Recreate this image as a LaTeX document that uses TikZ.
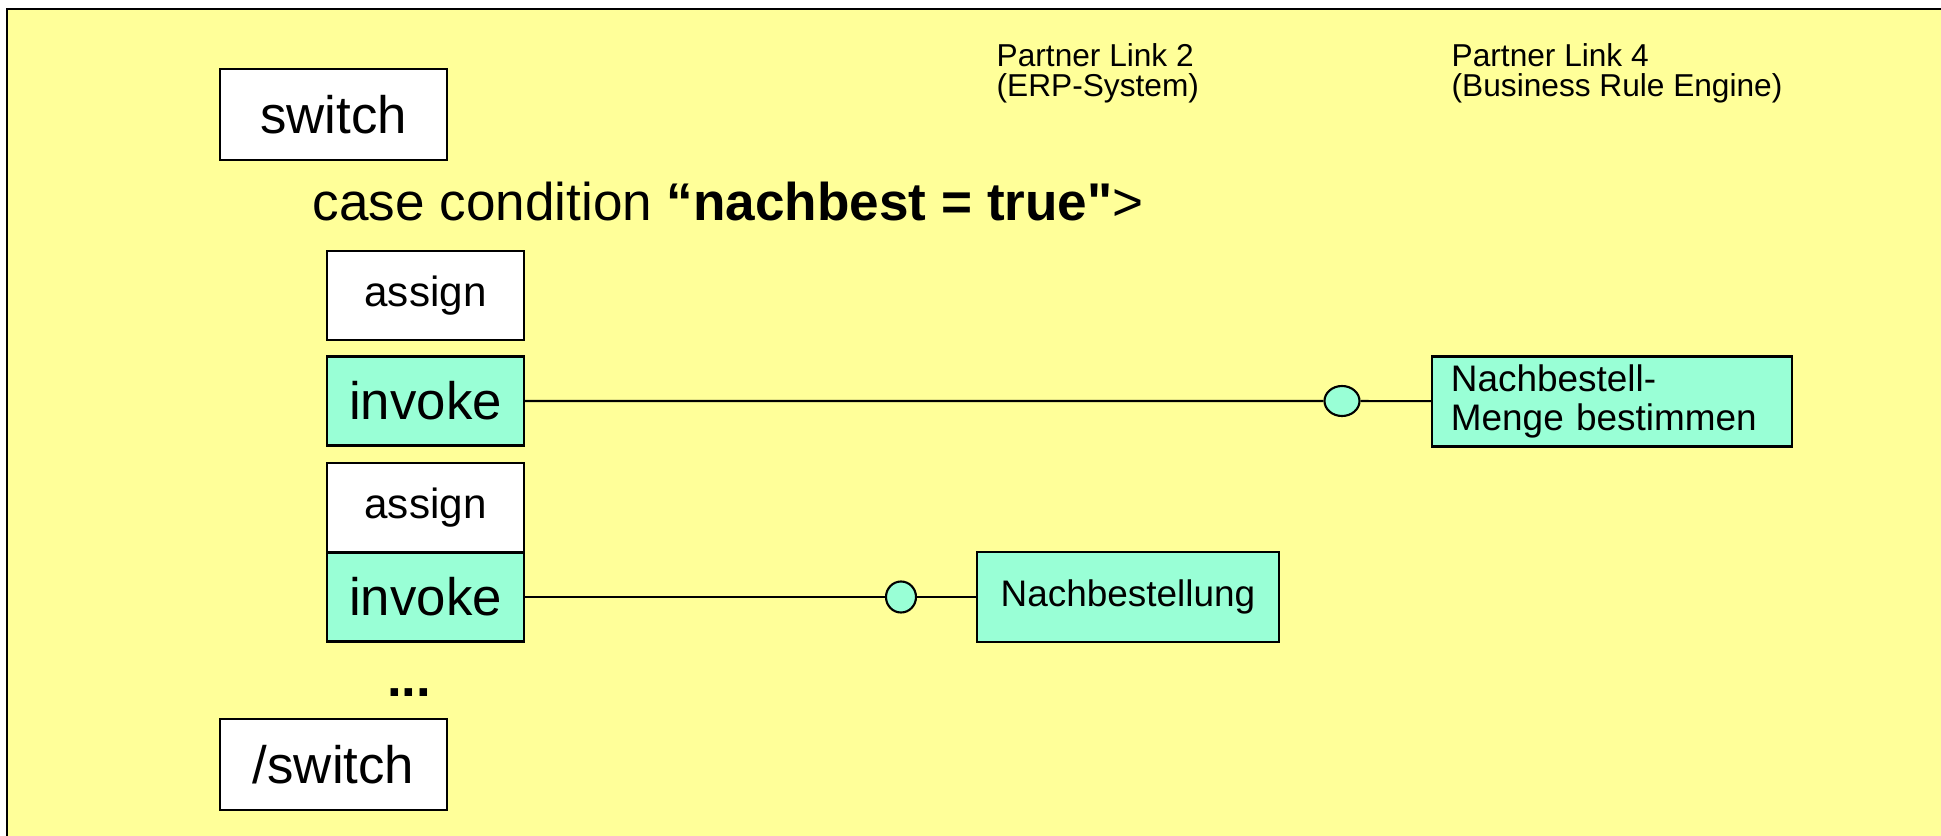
\documentclass[tikz,border=0pt]{standalone}
\usepackage{fontspec}
\setmainfont{Liberation Sans}[Ligatures=TeXOff]
\usetikzlibrary{shapes.geometric}
\definecolor{slideyellow}{RGB}{255,255,153}
\definecolor{invokegreen}{RGB}{153,255,214}
\tikzset{
  tagbox/.style={draw, line width=0.6pt, inner sep=0pt, fill=white,
    minimum width=2.27cm, minimum height=0.91cm, font=\fontsize{15}{18}\selectfont},
  actbox/.style={draw, line width=0.6pt, inner sep=0pt,
    minimum width=1.97cm, minimum height=0.89cm},
  assignbox/.style={actbox, fill=white, font=\fontsize{12}{14}\selectfont},
  invokebox/.style={actbox, fill=invokegreen, font=\fontsize{15}{18}\selectfont},
  opbox/.style={draw, line width=0.6pt, fill=invokegreen, inner ysep=0pt,
    minimum height=0.9cm, font=\fontsize{10.5}{11.2}\selectfont},
  port/.style={ellipse, draw, line width=0.6pt, fill=invokegreen, inner sep=0pt},
  partner/.style={anchor=north west, inner sep=0pt, align=left,
    font=\fontsize{9}{8.5}\selectfont}
}
\begin{document}
\begin{tikzpicture}[x=0.01cm, y=-0.01cm]
  \useasboundingbox (0,0) rectangle (1941,836);
  \clip (0,0) rectangle (1941,836);

  % Drawing slide background
  \draw [line width=0.6pt, fill=slideyellow] (7,9) rectangle (1980,880);%

  % Marking partner links
  \node [partner] (pl2) at (996,43) {Partner Link 2\\(ERP-System)};%
  \node [partner] (pl4) at (1451,43) {Partner Link 4\\(Business Rule Engine)};%

  % Marking switch and case
  \node [tagbox] (sw) at (333.5,114.5) {switch};%
  \node [anchor=west, inner sep=0pt, font=\fontsize{15.1}{18}\selectfont] (cond)
    at (312,202) {case condition \textbf{“nachbest = true"}>};%

  % Marking activities
  \node [assignbox] (as1) at (425.5,295.5) {assign};%
  \node [invokebox] (inv1) at (425.5,401) {invoke};%
  \node [assignbox] (as2) at (425.5,507.5) {assign};%
  \node [invokebox] (inv2) at (425.5,597) {invoke};%
  \node [inner sep=0pt, font=\bfseries\fontsize{15}{18}\selectfont] (dots) at (409,693) {...};%
  \node [tagbox] (esw) at (333.5,764.5) {/switch};%

  % Marking operations and ports
  \node [port, minimum width=0.35cm, minimum height=0.30cm] (p1) at (1342,401) {};%
  \node [port, minimum width=0.30cm, minimum height=0.31cm] (p2) at (901,597) {};%
  \node [opbox, text width=3.22cm, inner xsep=0.19cm, align=left] (nbm)
    at (1612,401.5) {Nachbestell-\\Menge bestimmen};%
  \node [opbox, minimum width=3.02cm] (nb) at (1128,597) {Nachbestellung};%

  % Drawing invoke links
  \draw [line width=0.6pt] (inv1) -- (p1) -- (nbm);%
  \draw [line width=0.6pt] (inv2) -- (p2) -- (nb);%
\end{tikzpicture}
\end{document}
